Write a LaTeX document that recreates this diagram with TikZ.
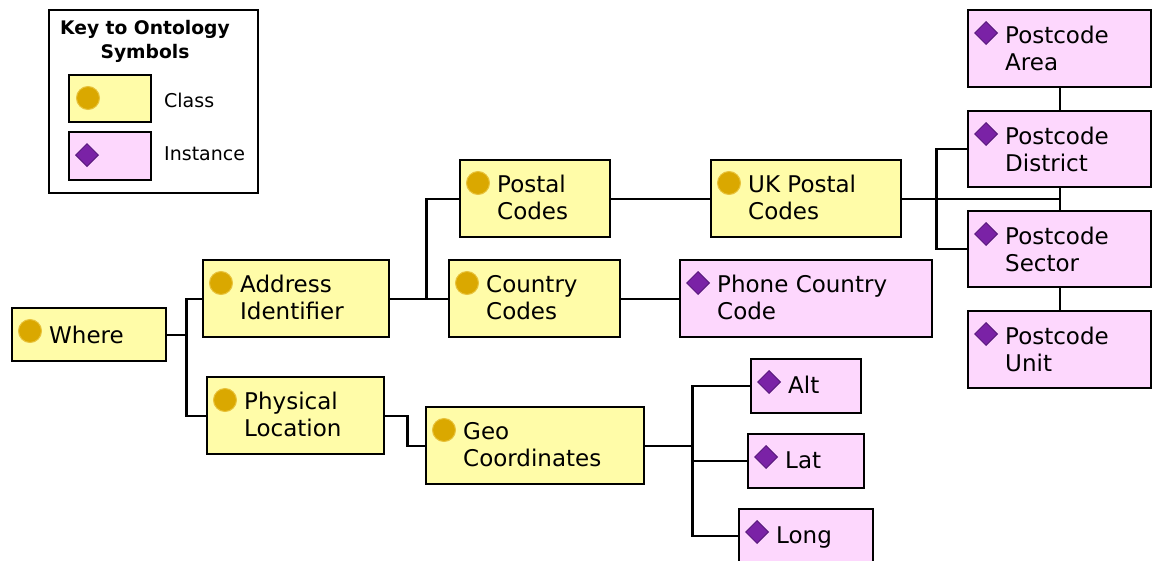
\documentclass[tikz,border=0pt]{standalone}
\usepackage{fontspec}
\setmainfont{DejaVu Sans}
\usetikzlibrary{shapes.geometric,calc}
\definecolor{clsfill}{HTML}{FFFCA8}
\definecolor{instfill}{HTML}{FDD7FD}
\definecolor{dotfill}{HTML}{DAA800}
\definecolor{dotline}{HTML}{E8C23A}
\definecolor{diafill}{HTML}{7A22A6}
\definecolor{dialine}{HTML}{5A1A7E}
\tikzset{
  boxbase/.style={draw=black, line width=2.4pt, rectangle, inner sep=0pt, anchor=north west},
  boxcls/.style={boxbase, fill=clsfill},
  boxinst/.style={boxbase, fill=instfill},
  markcls/.style={circle, fill=dotfill, draw=dotline, line width=1pt, minimum size=23pt, inner sep=0pt},
  markinst/.style={diamond, fill=diafill, draw=dialine, line width=1pt, minimum size=23pt, inner sep=0pt},
  lbl/.style={anchor=base west, inner sep=0pt, font=\fontsize{23}{27}\selectfont},
  keylbl/.style={anchor=base west, inner sep=0pt, font=\fontsize{19}{24}\selectfont},
  conn/.style={draw=black, line width=2.2pt},
}
\newcommand\obox[8]{%
  \node[box#1, minimum width=#5pt, minimum height=#6pt] (#2) at (#3,#4) {};
  \node[mark#1] (#2-m) at ($(#2.north west)+(19,24)$) {};
  \node[lbl] (#2-t) at ($(#2.north west)+(38,#8)$) {#7};
}
\newcommand\twolines[2]{\vtop{\hbox{#1}\hbox{#2}}}
\begin{document}
\begin{tikzpicture}[x=1pt,y=-1pt]
\useasboundingbox (0,0) rectangle (1152,560);
% key
\node[boxbase, draw=black, fill=white, minimum width=209pt, minimum height=183pt] (key) at (48,9) {};
\node[anchor=base, inner sep=0pt, font=\bfseries\fontsize{18.7}{24}\selectfont] (keytitle) at (145,34)
  {\vtop{\hbox to 180pt{\hfil Key to Ontology\hfil}\hbox to 180pt{\hfil Symbols\hfil}}};
\node[boxcls, minimum width=82pt, minimum height=47pt] (keycls) at (68,74) {};
\node[markcls] (keycls-m) at ($(keycls.north west)+(20,24)$) {};
\node[keylbl] (keycls-t) at (164,107) {Class};
\node[boxinst, minimum width=82pt, minimum height=48pt] (keyinst) at (68,131) {};
\node[markinst] (keyinst-m) at ($(keyinst.north west)+(19,24)$) {};
\node[keylbl] (keyinst-t) at (164,160) {Instance};
% connectors (drawn first, under boxes)
\obox{cls}{where}{11}{307}{154}{53}{Where}{36}
\obox{cls}{addr}{202}{259}{186}{77}{\twolines{Address}{Identifier}}{33}
\obox{cls}{phys}{206}{376}{177}{77}{\twolines{Physical}{Location}}{33}
\obox{cls}{postal}{459}{159}{150}{77}{\twolines{Postal}{Codes}}{33}
\obox{cls}{country}{448}{259}{171}{77}{\twolines{Country}{Codes}}{33}
\obox{cls}{ukpostal}{710}{159}{190}{77}{\twolines{UK Postal}{Codes}}{33}
\obox{inst}{phone}{679}{259}{252}{77}{\twolines{Phone Country}{Code}}{33}
\obox{inst}{area}{967}{9}{183}{77}{\twolines{Postcode}{Area}}{34}
\obox{inst}{district}{967}{110}{183}{76}{\twolines{Postcode}{District}}{34}
\obox{inst}{sector}{967}{210}{183}{76}{\twolines{Postcode}{Sector}}{34}
\obox{inst}{unit}{967}{310}{183}{77}{\twolines{Postcode}{Unit}}{34}
\obox{cls}{geo}{425}{406}{218}{77}{\twolines{Geo}{Coordinates}}{33}
\obox{inst}{alt}{750}{358}{110}{54}{Alt}{35}
\obox{inst}{lat}{747}{433}{116}{54}{Lat}{35}
\obox{inst}{long}{738}{508}{134}{54}{Long}{35}
% connectors
\coordinate (j1) at ($(where.east)+(19,0)$);
\draw[conn] (where.east) -- (j1);
\draw[conn] (j1) |- (addr.west);
\draw[conn] (j1) |- (phys.west);
\coordinate (j2) at ($(addr.east)+(36,0)$);
\draw[conn] (addr.east) -- (country.west);
\draw[conn] (j2) |- (postal.west);
\draw[conn] (postal.east) -- (ukpostal.west);
\draw[conn] (country.east) -- (phone.west);
\draw[conn] (area.south) -- (district.north);
\draw[conn] (district.south) -- (sector.north);
\draw[conn] (sector.south) -- (unit.north);
\draw[conn] (ukpostal.east) -- (district.south |- ukpostal.east);
\coordinate (j4) at ($(ukpostal.east)+(34,0)$);
\draw[conn] (j4) |- (district.west);
\draw[conn] (j4) |- (sector.west);
\draw[conn] (phys.east) -- ++(22,0) |- (geo.west);
\coordinate (j6) at ($(geo.east)+(47,0)$);
\draw[conn] (geo.east) -- (j6);
\draw[conn] (j6) |- (alt.west);
\draw[conn] (j6) |- (lat.west);
\draw[conn] (j6) |- (long.west);
\end{tikzpicture}
\end{document}
